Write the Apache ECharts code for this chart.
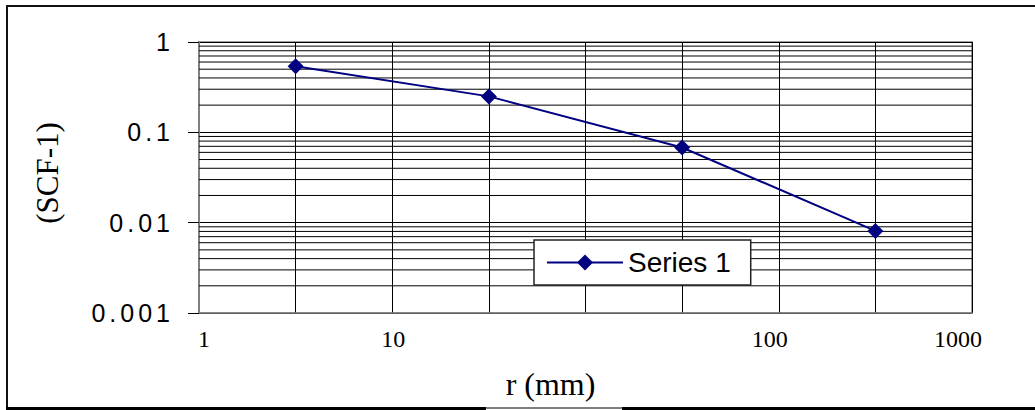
<!DOCTYPE html>
<html>
<head>
<meta charset="utf-8">
<script src="https://cdn.jsdelivr.net/npm/echarts@6/dist/echarts.min.js"></script>
<style>
html,body{margin:0;padding:0;background:#fff;}
#c{width:1035px;height:410px;}
#c text[style*="25px"]{letter-spacing:4px;}
</style>
</head>
<body>
<div id="c"></div>
<script>
// ---- data ----
var seriesName = 'Series 1';
var xPositions = [1, 2, 3, 4];
var yValues = [0.54, 0.25, 0.068, 0.0081];
var xTickValues = [0.5, 1.5, 3.5, 4.5];
var xTickLabels = ['1', '10', '100', '1000'];
var yTickLabels = ['0.001', '0.01', '0.1', '1'];
var yMinorLines = [0.002,0.003,0.004,0.005,0.006,0.007,0.008,0.009,
                   0.02,0.03,0.04,0.05,0.06,0.07,0.08,0.09,
                   0.2,0.3,0.4,0.5,0.6,0.7,0.8,0.9];
var xRange = [0.5, 4.5];

var xLabelStyle = ['a', 'b', 'c', 'd'];
var data = xPositions.map(function (x, i) { return [x, yValues[i]]; });

var gridSeries = yMinorLines.map(function (v) {
  return {
    name: 'minor' + v,
    type: 'line',
    data: [[xRange[0], v], [xRange[1], v]],
    symbol: 'none',
    silent: true,
    lineStyle: {color: '#000', width: 1},
    emphasis: {disabled: true},
    z: 1
  };
});

var chart = echarts.init(document.getElementById('c'), null, {renderer: 'svg'});
chart.setOption({
  animation: false,
  backgroundColor: '#fff',
  grid: {left: 199, right: 63, top: 42, bottom: 97, show: true, borderColor: '#808080', borderWidth: 1.5},
  xAxis: {
    type: 'value', min: xRange[0], max: xRange[1], interval: 0.5,
    name: 'r (mm)', nameLocation: 'middle', nameGap: 55,
    nameTextStyle: {fontFamily: 'Liberation Serif', fontSize: 32, color: '#000', padding: [0, 70, 0, 0]},
    axisLine: {show: true, lineStyle: {color: '#808080', width: 1.5}},
    axisTick: {show: false},
    splitLine: {show: true, lineStyle: {color: '#000', width: 1}},
    axisLabel: {
      margin: 14,
      fontFamily: 'Liberation Serif', fontSize: 24, color: '#000',
      formatter: function (v) {
        for (var i = 0; i < xTickValues.length; i++) {
          if (Math.abs(v - xTickValues[i]) < 1e-6) return '{' + xLabelStyle[i] + '|' + xTickLabels[i] + '}';
        }
        return '';
      },
      rich: {
        a: {fontFamily: 'Liberation Serif', fontSize: 24, color: '#000', padding: [0, 0, 0, 10]},
        b: {fontFamily: 'Liberation Serif', fontSize: 24, color: '#000', padding: [0, 0, 0, 2]},
        c: {fontFamily: 'Liberation Serif', fontSize: 24, color: '#000', padding: [0, 18, 0, 0]},
        d: {fontFamily: 'Liberation Serif', fontSize: 24, color: '#000', padding: [0, 28, 0, 0]}
      }
    }
  },
  yAxis: {
    type: 'log', logBase: 10, min: 0.001, max: 1,
    name: '(SCF-1)', nameLocation: 'middle', nameGap: 136,
    nameTextStyle: {fontFamily: 'Liberation Serif', fontSize: 31, color: '#000', padding: [0, 0, 0, 9]},
    axisLine: {show: true, lineStyle: {color: '#808080', width: 2}},
    axisTick: {show: true, length: 11, lineStyle: {color: '#000', width: 1}},
    splitLine: {show: true, lineStyle: {color: '#000', width: 1}},
    minorTick: {show: false},
    axisLabel: {
      margin: 25,
      fontFamily: 'Liberation Sans', fontSize: 25, color: '#000',
      formatter: function (v) {
        var e = Math.round(Math.log(v) / Math.LN10);
        return yTickLabels[e + 3];
      }
    }
  },
  legend: {
    show: true, left: 534, top: 240,
    orient: 'horizontal',
    backgroundColor: '#fff',
    borderColor: '#222', borderWidth: 1.5,
    padding: [7, 20, 7, 12],
    itemWidth: 76, itemHeight: 20,
    textStyle: {fontFamily: 'Liberation Sans', fontSize: 28, color: '#000', lineHeight: 31},
    data: [seriesName]
  },
  graphic: [
    {type: 'line', shape: {x1: 6, y1: 6, x2: 1035, y2: 6}, style: {stroke: '#111', lineWidth: 2}, silent: true},
    {type: 'line', shape: {x1: 7, y1: 5, x2: 7, y2: 409}, style: {stroke: '#111', lineWidth: 2}, silent: true},
    {type: 'line', shape: {x1: 6, y1: 408.5, x2: 486, y2: 408.5}, style: {stroke: '#000', lineWidth: 3}, silent: true},
    {type: 'line', shape: {x1: 486, y1: 408, x2: 622, y2: 408}, style: {stroke: '#000', lineWidth: 1}, silent: true},
    {type: 'line', shape: {x1: 622, y1: 408.5, x2: 1035, y2: 408.5}, style: {stroke: '#000', lineWidth: 3}, silent: true}
  ],
  series: gridSeries.concat([{
    name: seriesName,
    type: 'line',
    data: data,
    symbol: 'diamond',
    symbolSize: 16,
    color: '#000080',
    lineStyle: {color: '#000080', width: 2},
    itemStyle: {color: '#000080'},
    z: 5
  }])
});
</script>
</body>
</html>
